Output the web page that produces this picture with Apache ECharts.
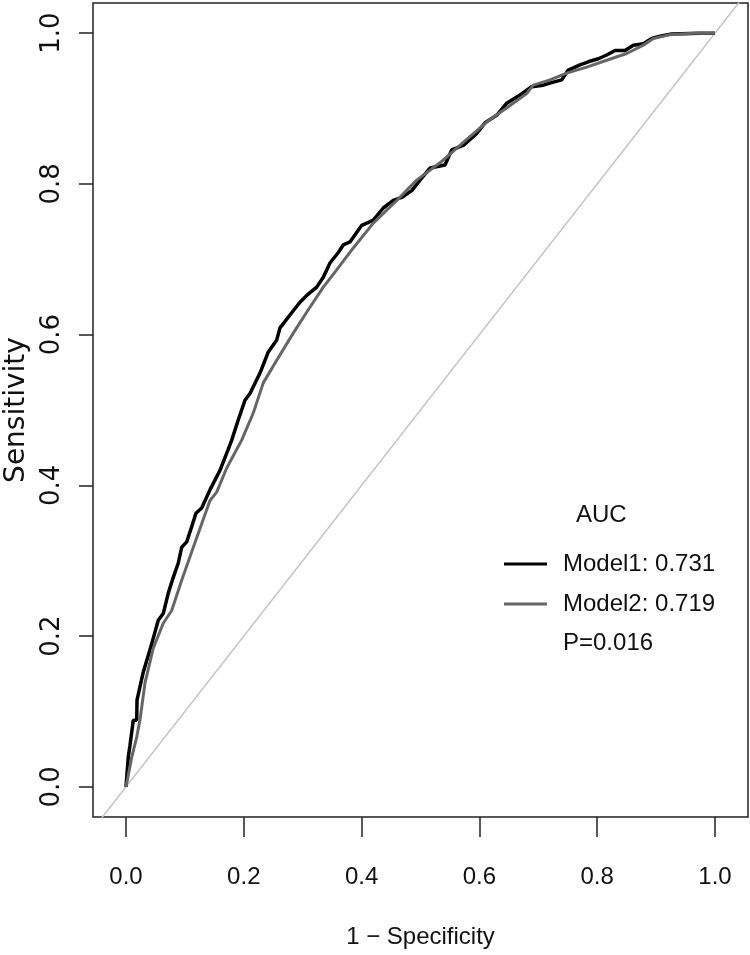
<!DOCTYPE html>
<html>
<head>
<meta charset="utf-8">
<script src="https://cdn.jsdelivr.net/npm/echarts@6/dist/echarts.min.js"></script>
<style>html,body{margin:0;padding:0;background:#fff}#c{width:750px;height:955px}</style>
</head>
<body>
<div id="c"></div>
<script>
// ---- data ----
const tickValues = [0, 0.2, 0.4, 0.6, 0.8, 1.0];
const modelNames = ['Model1', 'Model2'];
const aucValues = ['0.731', '0.719'];
const pValueText = 'P=0.016';
const legendTitle = 'AUC';
const xTitle = '1 \u2212 Specificity';
const yTitle = 'Sensitivity';
const diagonal = [[-0.2, -0.2], [1.2, 1.2]];
const model1 = [
 [0,0],[0.0039,0.0394],[0.0068,0.0553],[0.0124,0.0885],[0.0182,0.0885],[0.0187,0.115],
 [0.0289,0.151],[0.0441,0.191],[0.0548,0.221],[0.0633,0.230],[0.0718,0.257],[0.0803,0.278],
 [0.0888,0.297],[0.0946,0.318],[0.1031,0.325],[0.1115,0.345],[0.1188,0.363],[0.1285,0.370],
 [0.1426,0.394],[0.1596,0.420],[0.1732,0.447],[0.1795,0.460],[0.1907,0.487],[0.2020,0.513],
 [0.2105,0.522],[0.2275,0.549],[0.2416,0.577],[0.2559,0.593],[0.2615,0.609],[0.2813,0.629],
 [0.2954,0.643],[0.3068,0.652],[0.3238,0.663],[0.3350,0.676],[0.3463,0.695],[0.3604,0.709],
 [0.3689,0.719],[0.3803,0.723],[0.4002,0.745],[0.4199,0.752],[0.4368,0.768],[0.4538,0.778],
 [0.4681,0.782],[0.4851,0.791],[0.4992,0.805],[0.5161,0.821],[0.5416,0.825],[0.5530,0.845],
 [0.5727,0.851],[0.5954,0.867],[0.6095,0.881],[0.6294,0.891],[0.6464,0.907],[0.6689,0.918],
 [0.6888,0.929],[0.7085,0.931],[0.7255,0.935],[0.7397,0.938],[0.7509,0.951],[0.7708,0.958],
 [0.7849,0.962],[0.8019,0.966],[0.8161,0.971],[0.8302,0.977],[0.8472,0.977],[0.8613,0.984],
 [0.8783,0.986],[0.8925,0.993],[0.9066,0.996],[0.9265,0.999],[0.9745,1.0],[1.0,1.0]
];
const model2 = [
 [0,0],[0.0097,0.039],[0.0182,0.066],[0.0238,0.089],[0.0323,0.138],[0.0463,0.184],
 [0.0633,0.217],[0.0776,0.234],[0.0946,0.274],[0.1143,0.318],[0.1426,0.380],[0.1540,0.391],
 [0.1710,0.423],[0.1964,0.460],[0.2161,0.496],[0.2331,0.536],[0.2559,0.566],[0.2840,0.602],
 [0.3095,0.633],[0.3350,0.663],[0.3577,0.686],[0.3859,0.715],[0.4199,0.748],[0.4596,0.778],
 [0.4935,0.805],[0.5331,0.828],[0.5727,0.855],[0.6124,0.882],[0.6520,0.904],[0.6803,0.920],
 [0.6916,0.931],[0.7199,0.938],[0.7482,0.947],[0.7822,0.955],[0.8161,0.964],[0.8501,0.973],
 [0.8783,0.984],[0.8953,0.993],[0.9236,0.998],[0.9632,1.0],[1.0,1.0]
];

// ---- chart ----
const sans = '"Liberation Sans", Arial, sans-serif';
const wide = '"DejaVu Sans", sans-serif';
const chart = echarts.init(document.getElementById('c'), null, {renderer: 'canvas'});
const fmt = v => Number(v).toFixed(1);
chart.setOption({
  animation: false,
  backgroundColor: '#fff',
  grid: {left: 93, top: 3, width: 655, height: 814, containLabel: false, outerBoundsMode: 'none',
         show: true, borderColor: '#222', borderWidth: 1.5, backgroundColor: 'transparent'},
  xAxis: {
    type: 'value', min: -0.056, max: 1.056,
    axisLine: {show: false, onZero: false}, splitLine: {show: false},
    axisTick: {show: true, length: 20, customValues: tickValues, lineStyle: {color: '#222', width: 1.5}},
    axisLabel: {customValues: tickValues, formatter: fmt, fontFamily: sans, fontSize: 24, lineHeight: 24, color: '#111', margin: 48},
    name: xTitle, nameLocation: 'middle', nameGap: 108,
    nameTextStyle: {fontFamily: sans, fontSize: 24, lineHeight: 24, color: '#111', verticalAlign: 'top'}
  },
  yAxis: {
    type: 'value', min: -0.04, max: 1.04,
    axisLine: {show: false, onZero: false}, splitLine: {show: false},
    axisTick: {show: true, length: 14, customValues: tickValues, lineStyle: {color: '#222', width: 1.5}},
    axisLabel: {customValues: tickValues, formatter: fmt, rotate: 90, fontFamily: wide, fontSize: 26, lineHeight: 26, color: '#111', margin: 28},
    name: yTitle, nameLocation: 'middle', nameGap: 62, nameRotate: 90,
    nameTextStyle: {fontFamily: wide, fontSize: 28, lineHeight: 28, color: '#111'}
  },
  legend: {
    data: modelNames, orient: 'vertical', left: 499, top: 547, itemGap: 16,
    itemWidth: 43, itemHeight: 3, icon: 'rect',
    formatter: n => n + ': ' + aucValues[modelNames.indexOf(n)],
    textStyle: {fontFamily: sans, fontSize: 24, lineHeight: 24, color: '#111', padding: [0, 0, 0, 11]}
  },
  graphic: [
    {type: 'text', left: 576, top: 503, style: {text: legendTitle, font: '24px ' + sans, fill: '#111'}},
    {type: 'text', left: 563, top: 631, style: {text: pValueText, font: '24px ' + sans, fill: '#111'}}
  ],
  series: [
    {type: 'line', name: 'diag', data: diagonal, symbol: 'none', silent: true, clip: true,
     lineStyle: {color: '#c4c4c4', width: 1.5}, z: 1},
    {type: 'line', name: modelNames[0], data: model1, symbol: 'none', clip: true,
     lineStyle: {color: '#000', width: 3.5}, itemStyle: {color: '#000'}, z: 2},
    {type: 'line', name: modelNames[1], data: model2, symbol: 'none', clip: true,
     lineStyle: {color: '#666', width: 3}, itemStyle: {color: '#666'}, z: 3}
  ]
});
</script>
</body>
</html>
